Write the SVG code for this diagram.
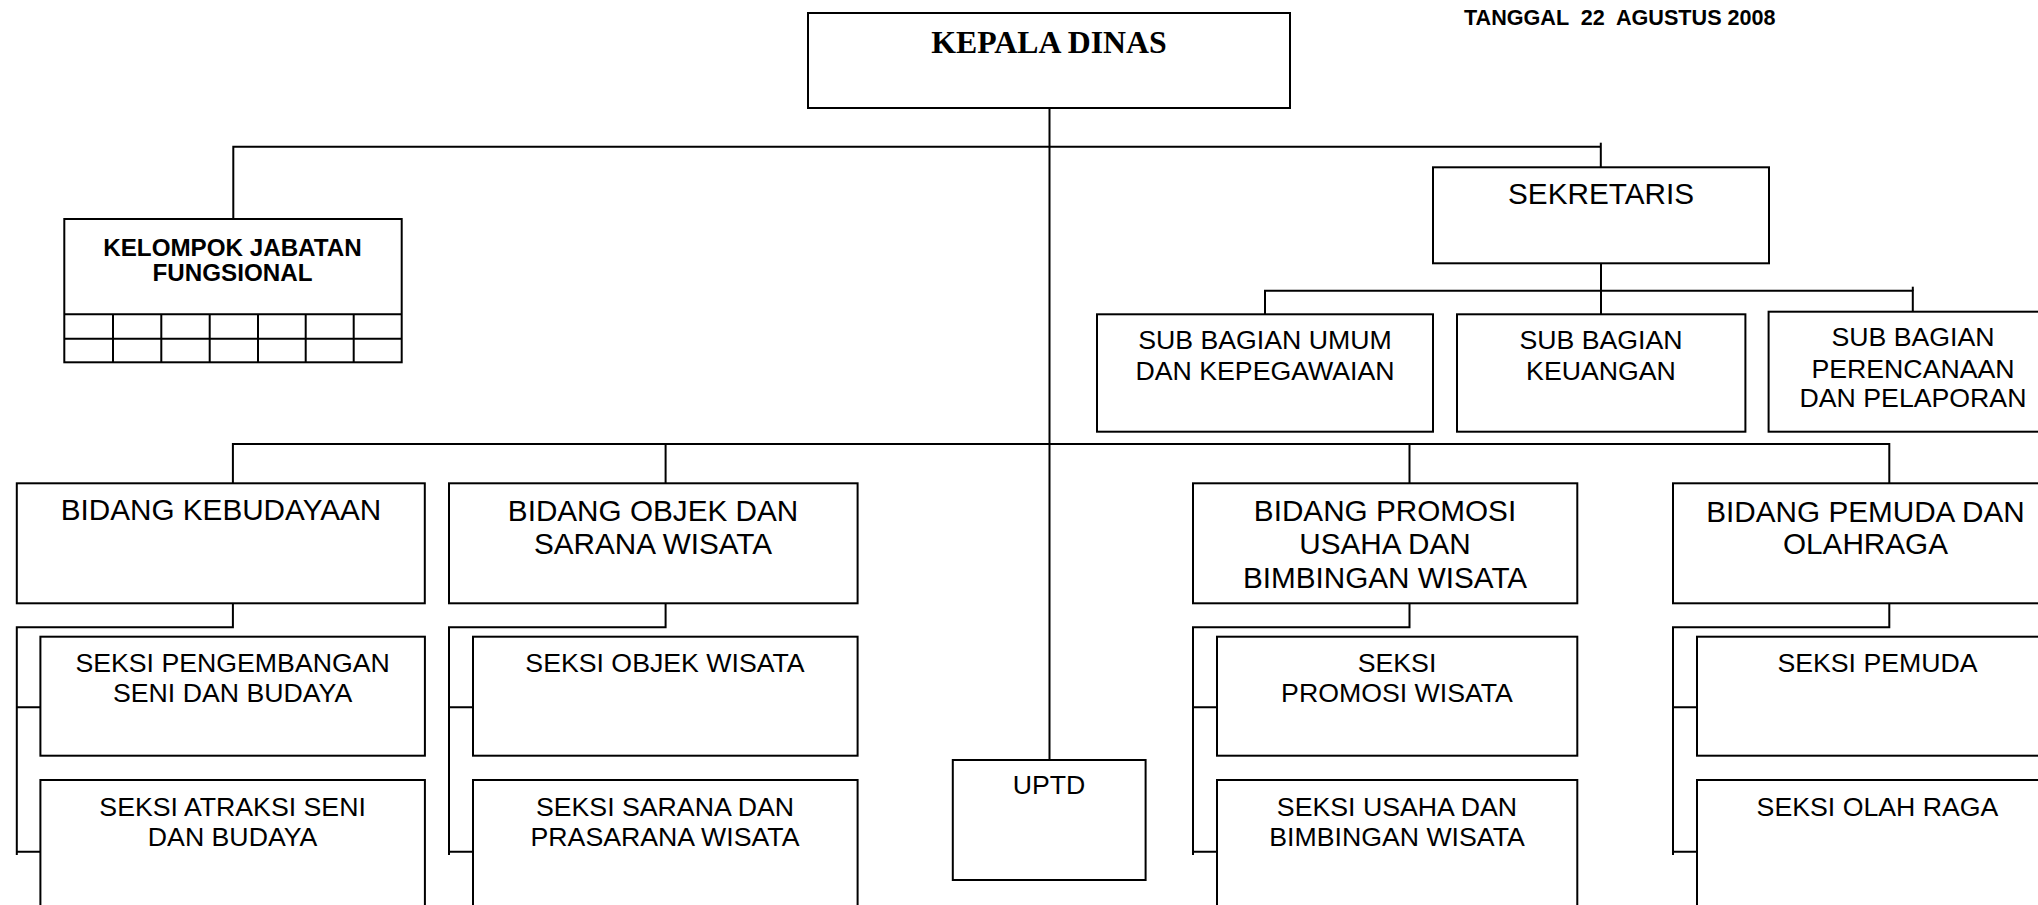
<svg xmlns="http://www.w3.org/2000/svg" width="2038" height="905" viewBox="0 0 2038 905">
<style>
.b{fill:#fff;stroke:#000;stroke-width:2}
.c{fill:none;stroke:#000;stroke-width:2}
.t{font-family:"Liberation Sans",Arial,sans-serif;text-anchor:middle;fill:#000}
.l{font-size:29.7px}
.s{font-size:26.7px}
.kb{font-family:"Liberation Sans",Arial,sans-serif;font-weight:bold;fill:#000}
</style>
<rect width="2038" height="905" fill="#fff"/>
<g id="connectors">
<path class="c" d="M1049.5 108 V760"/>
<path class="c" d="M233.3 219 V146.7 H1600.8"/>
<path class="c" d="M1600.8 142.7 V167.3"/>
<path class="c" d="M1601 263.3 V290.7"/>
<path class="c" d="M1265 314.3 V290.7 H1912.8 V311.7"/>
<path class="c" d="M1912.8 286.7 V290.7"/>
<path class="c" d="M1601 290.7 V314.3"/>
<path class="c" d="M232.9 483.3 V444 H1889.3 V483.3"/>
<path class="c" d="M665.6 444 V483.3"/>
<path class="c" d="M1409.5 444 V483.3"/>
<path class="c" d="M232.9 603.3 V627.3 H16.8 V855 M16.8 707.3 H40.4 M16.8 851.7 H40.4"/>
<path class="c" d="M665.6 603.3 V627.3 H449 V855 M449 707.3 H473 M449 851.7 H473"/>
<path class="c" d="M1409.5 603.3 V627.3 H1193 V855 M1193 707.3 H1217 M1193 851.7 H1217"/>
<path class="c" d="M1889.3 603.3 V627.3 H1673 V855 M1673 707.3 H1697 M1673 851.7 H1697"/>
</g>
<text id="tanggal" class="kb" x="1464" y="25" font-size="21.6" xml:space="preserve">TANGGAL  22  AGUSTUS 2008</text>
<g id="kepala-dinas">
<rect class="b" x="808" y="13" width="482" height="95"/>
<text x="1049" y="53.3" text-anchor="middle" font-family="'Liberation Serif','Times New Roman',serif" font-weight="bold" font-size="31.8">KEPALA DINAS</text>
</g>
<g id="kelompok-jabatan-fungsional">
<rect class="b" x="64.3" y="219" width="337.4" height="143.3"/>
<path class="c" d="M64.3 314.3 H401.7 M64.3 338.7 H401.7 M113 314.3 V362.3 M161.3 314.3 V362.3 M209.7 314.3 V362.3 M258 314.3 V362.3 M305.7 314.3 V362.3 M353.7 314.3 V362.3"/>
<text class="kb" x="232.5" y="256" font-size="24.2" text-anchor="middle">KELOMPOK JABATAN</text>
<text class="kb" x="232.5" y="281" font-size="24.2" text-anchor="middle">FUNGSIONAL</text>
</g>
<g id="sekretaris">
<rect class="b" x="1433" y="167.3" width="336" height="96"/>
<text class="t l" x="1601" y="204">SEKRETARIS</text>
</g>
<g id="sub-umum">
<rect class="b" x="1097" y="314.3" width="336" height="117.4"/>
<text class="t s" x="1265" y="349.3">SUB BAGIAN UMUM</text>
<text class="t s" x="1265" y="380">DAN KEPEGAWAIAN</text>
</g>
<g id="sub-keuangan">
<rect class="b" x="1457" y="314.3" width="288.4" height="117.4"/>
<text class="t s" x="1601" y="349.3">SUB BAGIAN</text>
<text class="t s" x="1601" y="380">KEUANGAN</text>
</g>
<g id="sub-perencanaan">
<rect class="b" x="1768.6" y="311.7" width="289" height="120"/>
<text class="t s" x="1913" y="346">SUB BAGIAN</text>
<text class="t s" x="1913" y="377.7">PERENCANAAN</text>
<text class="t s" x="1913" y="407.3">DAN PELAPORAN</text>
</g>
<g id="bidang-kebudayaan">
<rect class="b" x="16.8" y="483.3" width="408" height="120"/>
<text class="t l" x="221" y="520">BIDANG KEBUDAYAAN</text>
</g>
<g id="bidang-objek">
<rect class="b" x="449" y="483.3" width="408.6" height="120"/>
<text class="t l" x="653" y="520.7">BIDANG OBJEK DAN</text>
<text class="t l" x="653" y="554">SARANA WISATA</text>
</g>
<g id="bidang-promosi">
<rect class="b" x="1193" y="483.3" width="384.3" height="120"/>
<text class="t l" x="1385" y="521">BIDANG PROMOSI</text>
<text class="t l" x="1385" y="554.3">USAHA DAN</text>
<text class="t l" x="1385" y="587.7">BIMBINGAN WISATA</text>
</g>
<g id="bidang-pemuda">
<rect class="b" x="1673" y="483.3" width="385" height="120"/>
<text class="t l" x="1865.5" y="521.7">BIDANG PEMUDA DAN</text>
<text class="t l" x="1865.5" y="554.3">OLAHRAGA</text>
</g>
<g id="seksi-pengembangan">
<rect class="b" x="40.4" y="636.7" width="384.5" height="119"/>
<text class="t s" x="232.6" y="671.7">SEKSI PENGEMBANGAN</text>
<text class="t s" x="232.6" y="701.7">SENI DAN BUDAYA</text>
</g>
<g id="seksi-atraksi">
<rect class="b" x="40.4" y="780" width="384.5" height="140"/>
<text class="t s" x="232.6" y="815.7">SEKSI ATRAKSI SENI</text>
<text class="t s" x="232.6" y="845.7">DAN BUDAYA</text>
</g>
<g id="seksi-objek">
<rect class="b" x="473" y="636.7" width="384.6" height="119"/>
<text class="t s" x="665" y="671.7">SEKSI OBJEK WISATA</text>
</g>
<g id="seksi-sarana">
<rect class="b" x="473" y="780" width="384.6" height="140"/>
<text class="t s" x="665" y="815.7">SEKSI SARANA DAN</text>
<text class="t s" x="665" y="845.7">PRASARANA WISATA</text>
</g>
<g id="uptd">
<rect class="b" x="952.8" y="760" width="192.8" height="120"/>
<text class="t s" x="1049" y="794.3">UPTD</text>
</g>
<g id="seksi-promosi">
<rect class="b" x="1217" y="636.7" width="360.3" height="119"/>
<text class="t s" x="1397" y="671.7">SEKSI</text>
<text class="t s" x="1397" y="701.7">PROMOSI WISATA</text>
</g>
<g id="seksi-usaha">
<rect class="b" x="1217" y="780" width="360.3" height="140"/>
<text class="t s" x="1397" y="815.7">SEKSI USAHA DAN</text>
<text class="t s" x="1397" y="845.7">BIMBINGAN WISATA</text>
</g>
<g id="seksi-pemuda">
<rect class="b" x="1697" y="636.7" width="361" height="119"/>
<text class="t s" x="1877.5" y="671.7">SEKSI PEMUDA</text>
</g>
<g id="seksi-olahraga">
<rect class="b" x="1697" y="780" width="361" height="140"/>
<text class="t s" x="1877.5" y="815.7">SEKSI OLAH RAGA</text>
</g>
</svg>
